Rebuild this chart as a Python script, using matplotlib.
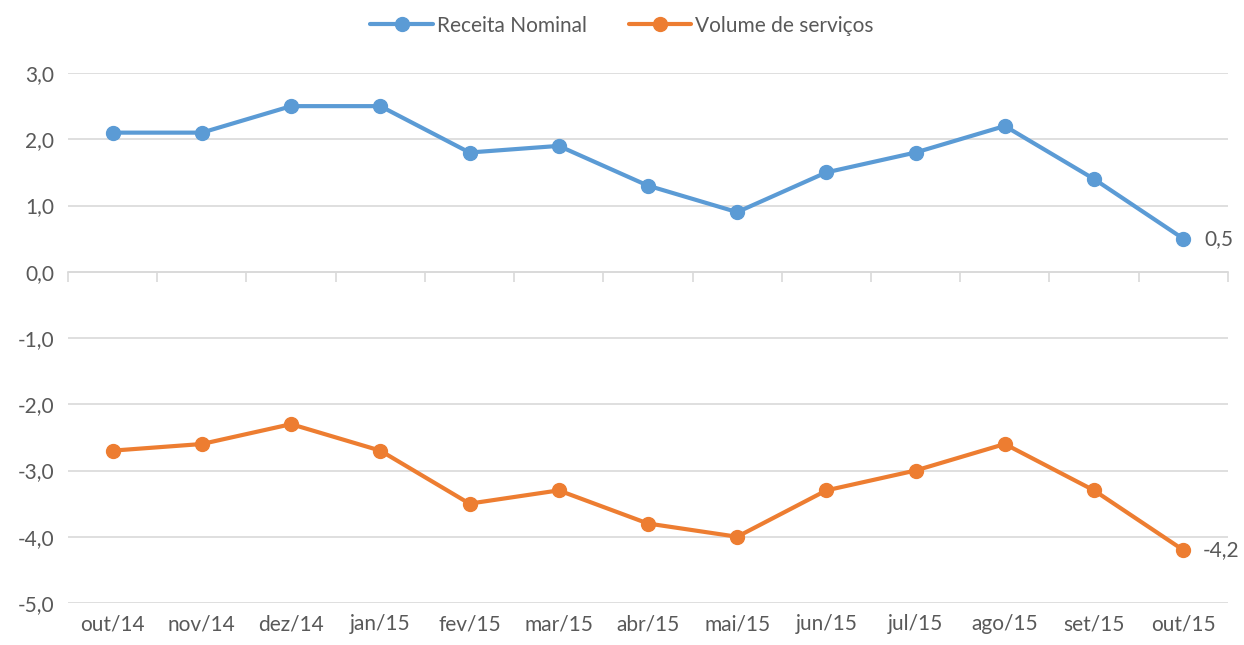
import matplotlib
matplotlib.use("Agg")
import matplotlib.pyplot as plt
from matplotlib.ticker import FuncFormatter, FixedLocator

categories = ["out/14", "nov/14", "dez/14", "jan/15", "fev/15", "mar/15", "abr/15",
              "mai/15", "jun/15", "jul/15", "ago/15", "set/15", "out/15"]
receita = [2.1, 2.1, 2.5, 2.5, 1.8, 1.9, 1.3, 0.9, 1.5, 1.8, 2.2, 1.4, 0.5]
volume = [-2.7, -2.6, -2.3, -2.7, -3.5, -3.3, -3.8, -4.0, -3.3, -3.0, -2.6, -3.3, -4.2]
yticks = [3.0, 2.0, 1.0, 0.0, -1.0, -2.0, -3.0, -4.0, -5.0]

plt.rcParams['font.family'] = ['Lato', 'DejaVu Sans']
gray = '#595959'
blue = '#5B9BD5'
orange = '#ED7D31'
fs = 15

fig = plt.figure(figsize=(12.44, 6.45), dpi=100)
ax = fig.add_axes([0.0547, 0.0651, 0.9323, 0.8217])

x = list(range(len(categories)))
ax.plot(x, receita, color=blue, lw=3, marker='o', ms=10, label='Receita Nominal',
        solid_capstyle='round', zorder=3)
ax.plot(x, volume, color=orange, lw=3, marker='o', ms=10, label='Volume de serviços',
        solid_capstyle='round', zorder=3)

ax.annotate(f"{receita[-1]:.1f}".replace('.', ','), (x[-1], receita[-1]), xytext=(15, 0),
            textcoords='offset points', va='center', ha='left', fontsize=fs, color=gray)
ax.annotate(f"{volume[-1]:.1f}".replace('.', ','), (x[-1], volume[-1]), xytext=(14, 0),
            textcoords='offset points', va='center', ha='left', fontsize=fs, color=gray)

ax.set_xlim(-0.5, len(categories) - 0.5)
ax.set_ylim(-5.0, 3.0)
ax.set_yticks(yticks)
ax.yaxis.set_major_formatter(FuncFormatter(lambda v, p: f"{v:.1f}".replace('.', ',')))
ax.tick_params(axis='y', length=0, labelsize=fs, labelcolor=gray, pad=10)
ax.grid(axis='y', color='#D9D9D9', lw=1.2, zorder=0)
ax.set_axisbelow(True)

for s in ['top', 'right', 'left']:
    ax.spines[s].set_visible(False)
ax.spines['bottom'].set_position(('data', 0))
ax.spines['bottom'].set_color('#D9D9D9')
ax.spines['bottom'].set_linewidth(1.2)
ax.xaxis.set_major_locator(FixedLocator([i - 0.5 for i in range(len(categories) + 1)]))
ax.xaxis.set_major_formatter(FuncFormatter(lambda v, p: ''))
ax.tick_params(axis='x', direction='out', length=7, width=1.2, color='#D9D9D9')

sec = ax.secondary_xaxis('bottom')
sec.set_xticks(x)
sec.set_xticklabels(categories)
sec.tick_params(length=0, labelsize=fs, labelcolor=gray, pad=8)
sec.spines['bottom'].set_visible(False)

fig.legend(loc='upper center', bbox_to_anchor=(0.5, 1.005), ncol=2, frameon=False,
           fontsize=fs, labelcolor=gray, handlelength=3.0, handletextpad=0.2,
           columnspacing=2.0)

fig.savefig('out.png', dpi=100, facecolor='white')
